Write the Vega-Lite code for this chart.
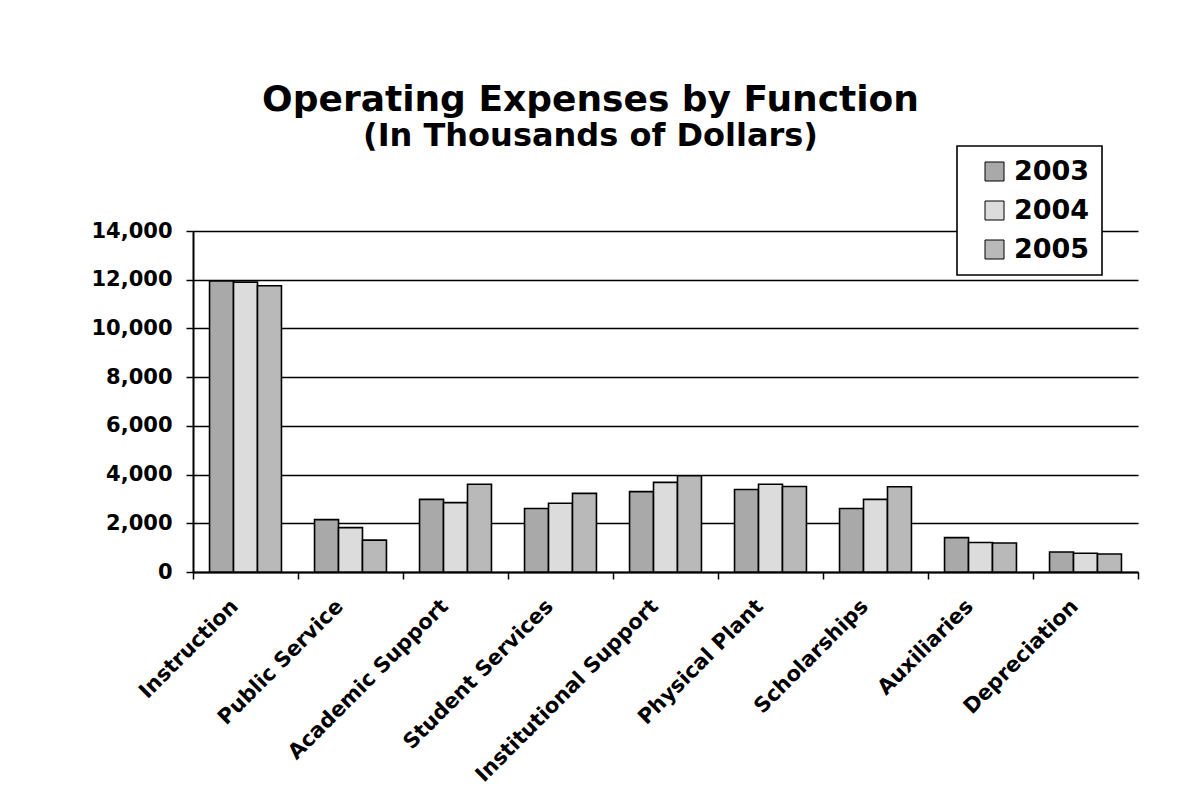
{
  "$schema": "https://vega.github.io/schema/vega-lite/v6.json",
  "autosize": "none",
  "width": 945,
  "height": 341,
  "padding": {"left": 193, "top": 231, "right": 44, "bottom": 237},
  "background": "white",
  "title": {
    "text": "Operating Expenses by Function",
    "subtitle": "(In Thousands of Dollars)",
    "font": "DejaVu Sans",
    "fontWeight": "bold",
    "fontSize": 36,
    "color": "black",
    "subtitleFont": "DejaVu Sans",
    "subtitleFontWeight": "bold",
    "subtitleFontSize": 32,
    "subtitleColor": "black",
    "subtitlePadding": 2,
    "anchor": "middle",
    "dx": -75,
    "offset": -8
  },
  "data": {
    "values": [
      {"function": "Instruction", "year": "2003", "value": 11950},
      {"function": "Instruction", "year": "2004", "value": 11900},
      {"function": "Instruction", "year": "2005", "value": 11750},
      {"function": "Public Service", "year": "2003", "value": 2150},
      {"function": "Public Service", "year": "2004", "value": 1820},
      {"function": "Public Service", "year": "2005", "value": 1310},
      {"function": "Academic Support", "year": "2003", "value": 2980},
      {"function": "Academic Support", "year": "2004", "value": 2850},
      {"function": "Academic Support", "year": "2005", "value": 3600},
      {"function": "Student Services", "year": "2003", "value": 2610},
      {"function": "Student Services", "year": "2004", "value": 2820},
      {"function": "Student Services", "year": "2005", "value": 3230},
      {"function": "Institutional Support", "year": "2003", "value": 3300},
      {"function": "Institutional Support", "year": "2004", "value": 3680},
      {"function": "Institutional Support", "year": "2005", "value": 3950},
      {"function": "Physical Plant", "year": "2003", "value": 3390},
      {"function": "Physical Plant", "year": "2004", "value": 3600},
      {"function": "Physical Plant", "year": "2005", "value": 3510},
      {"function": "Scholarships", "year": "2003", "value": 2610},
      {"function": "Scholarships", "year": "2004", "value": 2980},
      {"function": "Scholarships", "year": "2005", "value": 3500},
      {"function": "Auxiliaries", "year": "2003", "value": 1410},
      {"function": "Auxiliaries", "year": "2004", "value": 1210},
      {"function": "Auxiliaries", "year": "2005", "value": 1190},
      {"function": "Depreciation", "year": "2003", "value": 820},
      {"function": "Depreciation", "year": "2004", "value": 770},
      {"function": "Depreciation", "year": "2005", "value": 740}
    ]
  },
  "mark": {"type": "bar", "stroke": "black", "strokeWidth": 1.6},
  "encoding": {
    "x": {
      "field": "function",
      "type": "nominal",
      "sort": null,
      "scale": {"paddingInner": 0, "paddingOuter": 0},
      "axis": {
        "title": null,
        "labelAngle": -45,
        "labelAlign": "right",
        "labelBaseline": "middle",
        "labelFont": "DejaVu Sans",
        "labelFontWeight": "bold",
        "labelFontSize": 21,
        "labelColor": "black",
        "labelLimit": 500,
        "labelPadding": 24,
        "labelOffset": -11,
        "tickBand": "extent",
        "ticks": true,
        "tickSize": 7,
        "tickColor": "black",
        "tickWidth": 1.5,
        "domainColor": "black",
        "domainWidth": 2,
        "grid": false
      }
    },
    "xOffset": {
      "field": "year",
      "type": "nominal",
      "scale": {"paddingInner": 0, "paddingOuter": 0.69}
    },
    "y": {
      "field": "value",
      "type": "quantitative",
      "scale": {"domain": [0, 14000], "nice": false},
      "axis": {
        "title": null,
        "values": [0, 2000, 4000, 6000, 8000, 10000, 12000, 14000],
        "format": ",d",
        "labelFont": "DejaVu Sans",
        "labelFontWeight": "bold",
        "labelFontSize": 21,
        "labelColor": "black",
        "labelPadding": 14,
        "tickSize": 7,
        "tickColor": "black",
        "tickWidth": 1.5,
        "domainColor": "black",
        "domainWidth": 2,
        "grid": true,
        "gridColor": "black",
        "gridWidth": 1.6,
        "gridOpacity": 1
      }
    },
    "color": {
      "field": "year",
      "type": "nominal",
      "scale": {"domain": ["2003", "2004", "2005"], "range": ["#a9a9a9", "#dcdcdc", "#b9b9b9"]},
      "legend": {
        "title": null,
        "orient": "none",
        "legendX": 764,
        "legendY": -85,
        "fillColor": "white",
        "strokeColor": "black",
        "padding": 12,
        "symbolOffset": 12,
        "symbolType": "square",
        "symbolSize": 361,
        "symbolStrokeColor": "black",
        "symbolStrokeWidth": 1,
        "symbolOpacity": 1,
        "labelFont": "DejaVu Sans",
        "labelFontWeight": "bold",
        "labelFontSize": 27,
        "labelColor": "black",
        "labelOffset": 6,
        "rowPadding": 11
      }
    }
  },
  "config": {
    "view": {"stroke": null},
    "legend": {"strokeWidth": 1.6}
  }
}
